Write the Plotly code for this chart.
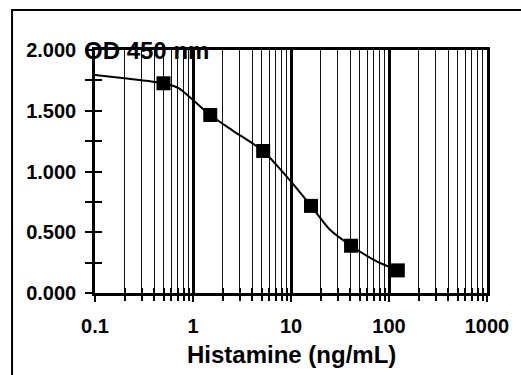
import plotly.graph_objects as go

# Measured standards (Histamine ng/mL vs OD 450 nm)
conc = [0.5, 1.5, 5.2, 16, 41, 123]
od = [1.726, 1.465, 1.169, 0.717, 0.389, 0.186]

# Fitted curve points
curve_x = [0.085, 0.2, 0.5, 0.72, 1.0, 1.5, 2.5, 5.2, 10, 16, 25, 41, 75, 123]
curve_y = [1.80, 1.767, 1.726, 1.684, 1.588, 1.465, 1.341, 1.169, 0.917, 0.717, 0.52, 0.389, 0.26, 0.186]

x_major = [0.1, 1, 10, 100, 1000]
x_major_text = ["0.1", "1", "10", "100", "1000"]
x_minor = [m * d for d in [0.1, 1, 10, 100] for m in range(2, 10)]
y_major = [0, 0.5, 1.0, 1.5, 2.0]
y_major_text = ["0.000", "0.500", "1.000", "1.500", "2.000"]
y_minor = [0.25, 0.75, 1.25, 1.75]

x_title = "Histamine (ng/mL)"
y_title = "OD 450 nm"

FONT = "Liberation Sans, Arial, sans-serif"

fig = go.Figure()
fig.add_trace(go.Scatter(x=curve_x, y=curve_y, mode="lines",
                         line=dict(color="black", width=2, shape="spline", smoothing=0.6),
                         hoverinfo="skip", showlegend=False))
fig.add_trace(go.Scatter(x=conc, y=od, mode="markers",
                         marker=dict(symbol="square", size=14, color="black"),
                         showlegend=False))
# invisible trace to activate the overlay axes (inside half of crossing ticks)
fig.add_trace(go.Scatter(x=[conc[0]], y=[od[0]], xaxis="x2", yaxis="y2", mode="markers",
                         marker=dict(opacity=0), hoverinfo="skip", showlegend=False))

fig.update_layout(
    width=521, height=375,
    margin=dict(l=95, r=29, t=50, b=82),
    paper_bgcolor="white", plot_bgcolor="white",
    font=dict(family=FONT, color="black"),
    xaxis=dict(type="log", range=[-1, 3], tickvals=x_major, ticktext=x_major_text,
               showgrid=True, gridcolor="black", gridwidth=2.5,
               showline=True, linecolor="black", linewidth=2.5, mirror=True,
               ticks="outside", ticklen=6, tickwidth=2, tickcolor="black",
               tickfont=dict(family=FONT, size=20, weight="bold", color="black"),
               ticklabelstandoff=7,
               minor=dict(tickvals=x_minor, showgrid=True, gridcolor="#111", gridwidth=1,
                          ticks="outside", ticklen=5, tickwidth=1.5, tickcolor="black"),
               zeroline=False, layer="below traces"),
    yaxis=dict(range=[0, 2], tickvals=y_major, ticktext=y_major_text,
               showgrid=False, showline=True, linecolor="black", linewidth=2.5, mirror=True,
               ticks="outside", ticklen=7, tickwidth=2, tickcolor="black",
               tickfont=dict(family=FONT, size=20, weight="bold", color="black"),
               ticklabelstandoff=5,
               minor=dict(tickvals=y_minor, ticks="outside", ticklen=7, tickwidth=2, tickcolor="black"),
               zeroline=False),
    xaxis2=dict(type="log", range=[-1, 3], overlaying="x", anchor="y", side="bottom",
                tickvals=x_major, showticklabels=False, showgrid=False, showline=False,
                ticks="inside", ticklen=6, tickwidth=2, tickcolor="black",
                minor=dict(tickvals=x_minor, ticks="inside", ticklen=5, tickwidth=1.5, tickcolor="black"),
                zeroline=False),
    yaxis2=dict(range=[0, 2], overlaying="y", anchor="x", side="left",
                tickvals=y_major, showticklabels=False, showgrid=False, showline=False,
                ticks="inside", ticklen=7, tickwidth=2, tickcolor="black",
                minor=dict(tickvals=y_minor, ticks="inside", ticklen=7, tickwidth=2, tickcolor="black"),
                zeroline=False),
    annotations=[
        dict(text=x_title, xref="paper", yref="paper", x=0.5, y=-0.255,
             xanchor="center", yanchor="middle", showarrow=False,
             font=dict(family=FONT, size=24, weight="bold", color="black")),
        dict(text=y_title, xref="paper", yref="paper", x=-0.032, y=1.0,
             xanchor="left", yanchor="middle", showarrow=False,
             font=dict(family=FONT, size=24, weight="bold", color="black")),
    ],
    shapes=[
        dict(type="rect", xref="paper", yref="paper", x0=-0.2116, y0=-2, x1=3, y1=1.1646,
             line=dict(color="black", width=2), layer="below"),
    ],
)

fig.write_html("out.html", config={"displayModeBar": False},
               post_script="document.body.style.margin='0';")
